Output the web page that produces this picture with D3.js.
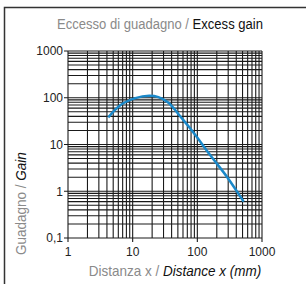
<!doctype html>
<html>
<head>
<meta charset="utf-8">
<title>Excess gain</title>
<style>
  body { margin: 0; background: #fff; }
  svg text { font-family: "Liberation Sans", Arial, sans-serif; }
</style>
</head>
<body>
<script src="https://d3js.org/d3.v7.min.js"></script>
<script>
// data
var distance = [4.2, 6.5, 11, 18, 25, 35, 60, 90, 160, 290, 520];
var gain = [38, 70, 98, 110, 103, 80, 34, 17, 5.8, 2, 0.6];
var xTickValues = [1, 10, 100, 1000];
var xTickLabels = ["1", "10", "100", "1000"];
var yTickValues = [0.1, 1, 10, 100, 1000];
var yTickLabels = ["0,1", "1", "10", "100", "1000"];

var w = 306, h = 284;
// plot area edges (not named top/bottom: window.top is read-only)
var pLeft = 68, pRight = 262, pTop = 51, pBottom = 238;

var svg = d3.select("body").append("svg")
    .attr("width", w)
    .attr("height", h);

// frame (runs off the right and bottom edge)
svg.append("path")
    .attr("d", "M4.5," + (h + 2) + "V7.5H" + (w + 2))
    .attr("fill", "none")
    .attr("stroke", "#333")
    .attr("stroke-width", 1.5);

var x = d3.scaleLog().domain([1, 1000]).range([pLeft, pRight]);
var y = d3.scaleLog().domain([0.1, 1000]).range([pBottom, pTop]);

// all grid lines 1..9 in each decade
var xGrid = [], yGrid = [];
[1, 10, 100].forEach(function (d) {
    for (var i = 1; i < 10; i++) xGrid.push(d * i);
});
xGrid.push(1000);
[0.1, 1, 10, 100].forEach(function (d) {
    for (var i = 1; i < 10; i++) yGrid.push(d * i);
});
yGrid.push(1000);

var grid = svg.append("g");
grid.selectAll("line.v")
    .data(xGrid)
    .enter().append("line")
    .attr("class", "v")
    .attr("x1", function (d) { return x(d); })
    .attr("x2", function (d) { return x(d); })
    .attr("y1", pTop)
    .attr("y2", function (d) { return xTickValues.indexOf(d) >= 0 ? pBottom + 4 : pBottom; })
    .attr("stroke", "#1a1a1a")
    .attr("stroke-width", 1.1);

grid.selectAll("line.h")
    .data(yGrid)
    .enter().append("line")
    .attr("class", "h")
    .attr("y1", function (d) { return y(d); })
    .attr("y2", function (d) { return y(d); })
    .attr("x1", function (d) { return yTickValues.indexOf(d) >= 0 ? pLeft - 4 : pLeft; })
    .attr("x2", pRight)
    .attr("stroke", "#1a1a1a")
    .attr("stroke-width", 1.1);

// tick labels
svg.selectAll("text.xt")
    .data(xTickValues)
    .enter().append("text")
    .attr("class", "xt")
    .attr("x", function (d) { return x(d); })
    .attr("y", 256)
    .attr("text-anchor", "middle")
    .attr("font-size", 12)
    .attr("fill", "#222")
    .text(function (d, i) { return xTickLabels[i]; });

svg.selectAll("text.yt")
    .data(yTickValues)
    .enter().append("text")
    .attr("class", "yt")
    .attr("x", pLeft - 5)
    .attr("y", function (d) { return y(d) + 4.3; })
    .attr("text-anchor", "end")
    .attr("font-size", 12)
    .attr("fill", "#222")
    .text(function (d, i) { return yTickLabels[i]; });

// curve
var line = d3.line()
    .x(function (d, i) { return x(distance[i]); })
    .y(function (d) { return y(d); })
    .curve(d3.curveCatmullRom);

svg.append("path")
    .datum(gain)
    .attr("d", line)
    .attr("fill", "none")
    .attr("stroke", "#1a88c9")
    .attr("stroke-width", 2.5);

// titles, squeezed horizontally to look like a condensed face
var title = svg.append("text")
    .attr("transform", "translate(160,29) scale(0.87,1)")
    .attr("text-anchor", "middle")
    .attr("font-size", 15);
title.append("tspan").attr("fill", "#8a8a8a").text("Eccesso di guadagno / ");
title.append("tspan").attr("fill", "#111").text("Excess gain");

var xTitle = svg.append("text")
    .attr("transform", "translate(175,276) scale(0.9,1)")
    .attr("text-anchor", "middle")
    .attr("font-size", 15);
xTitle.append("tspan").attr("fill", "#8a8a8a").text("Distanza x / ");
xTitle.append("tspan").attr("fill", "#111").attr("font-style", "italic").text("Distance x (mm)");

var yTitle = svg.append("text")
    .attr("transform", "translate(25.5,255) rotate(-90) scale(0.9,1)")
    .attr("text-anchor", "start")
    .attr("font-size", 15);
yTitle.append("tspan").attr("fill", "#8a8a8a").text("Guadagno / ");
yTitle.append("tspan").attr("fill", "#111").attr("font-style", "italic").text("Gain");
</script>
</body>
</html>
